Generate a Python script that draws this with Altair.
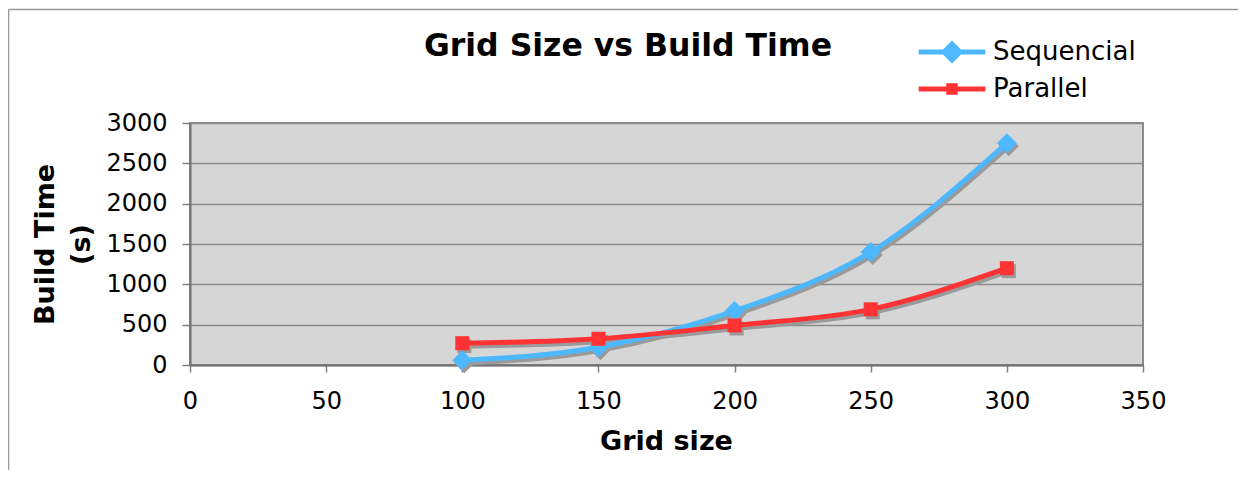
import altair as alt
import pandas as pd

# ---- data ----
grid_size = [100, 150, 200, 250, 300]
sequencial = [60, 220, 670, 1400, 2750]
parallel = [270, 325, 490, 690, 1200]
series_names = ["Sequencial", "Parallel"]
x_ticks = [0, 50, 100, 150, 200, 250, 300, 350]
y_ticks = [0, 500, 1000, 1500, 2000, 2500, 3000]
chart_title = "Grid Size vs Build Time"

rows = []
for g, s, p in zip(grid_size, sequencial, parallel):
    rows.append({"grid": g, "series": "Sequencial", "time": s})
    rows.append({"grid": g, "series": "Parallel", "time": p})
df = pd.DataFrame(rows)

FONT = "DejaVu Sans"
colors = ["#4db8ff", "#ff3333"]
shadow = "#9a9a9a"

color_scale = alt.Scale(domain=series_names, range=colors)

# legend symbols: a thick line with the marker on it (filled paths)
seq_path = "M-2.9,-0.22H2.9V0.22H-2.9Z M0,-1L1,0L0,1L-1,0Z"
par_path = "M-2.9,-0.22H2.9V0.22H-2.9Z M-0.5,-0.5H0.5V0.5H-0.5Z"
legend_shape_scale = alt.Scale(domain=series_names, range=[seq_path, par_path])

x = alt.X(
    "grid:Q",
    scale=alt.Scale(domain=[0, 350], nice=False, zero=False),
    axis=alt.Axis(
        values=x_ticks, title="Grid size", grid=False, format="d", labelFlush=False,
        labelFontSize=24, labelFont=FONT, labelColor="black",
        tickSize=7, labelPadding=17, tickColor="#808080", tickWidth=1.5,
        domainColor="#707070", domainWidth=2,
        titleFontSize=27, titleFont=FONT, titleFontWeight="bold", titleColor="black",
        titleBaseline="alphabetic", titleY=84, titleX=476,
    ),
)
y = alt.Y(
    "time:Q",
    scale=alt.Scale(domain=[0, 3000], nice=False),
    axis=alt.Axis(
        values=y_ticks, title=["Build Time", "(s)"], grid=True, format="d", labelFlush=False,
        gridColor="#8a8a8a", gridWidth=1.5,
        labelFontSize=24, labelFont=FONT, labelColor="black",
        tickSize=8, labelPadding=15, tickColor="#808080", tickWidth=1.5,
        domainColor="#707070", domainWidth=2,
        titleFontSize=27, titleFont=FONT, titleFontWeight="bold", titleColor="black",
        titleBaseline="alphabetic", titleAngle=270, titleAlign="center",
        titleX=-137, titleY=121, titleLineHeight=36,
    ),
)

legend = alt.Legend(
    title=None, orient="none", legendX=749, legendY=-84, padding=0,
    direction="vertical",
    labelFontSize=26, labelFont=FONT, labelColor="black",
    symbolSize=529, symbolStrokeWidth=0, symbolOpacity=1,
    labelOffset=28, rowPadding=11,
)

base = alt.Chart(df)

# legend-only layer (no rows survive the filter; entries come from the scale domain)
legend_layer = base.transform_filter("false").mark_point(
    filled=True, opacity=1
).encode(
    x=x, y=y,
    color=alt.Color("series:N", scale=color_scale, legend=legend),
    shape=alt.Shape("series:N", scale=legend_shape_scale, legend=legend),
)

shadow_lines = base.mark_line(
    interpolate="monotone", strokeWidth=5, color=shadow, xOffset=2, yOffset=3
).encode(x=x, y=y, detail="series:N")

lines = base.mark_line(interpolate="monotone", strokeWidth=5).encode(
    x=x, y=y,
    color=alt.Color("series:N", scale=color_scale),
)


def marker_layers(name, shape, size):
    sub = base.transform_filter(alt.datum.series == name)
    sh = sub.mark_point(
        filled=True, color=shadow, opacity=1, shape=shape, size=size, xOffset=2, yOffset=3
    ).encode(x=x, y=y)
    pt = sub.mark_point(filled=True, opacity=1, shape=shape, size=size).encode(
        x=x, y=y, color=alt.Color("series:N", scale=color_scale)
    )
    return sh, pt


seq_shadow, seq_points = marker_layers("Sequencial", "diamond", 400)
par_shadow, par_points = marker_layers("Parallel", "square", 196)

one = pd.DataFrame({"label": [chart_title]})
title_text = alt.Chart(one).mark_text(
    font=FONT, fontSize=31.5, fontWeight="bold", color="black",
    align="center", baseline="alphabetic",
).encode(x=alt.value(438), y=alt.value(-67), text="label:N")

frame_left = alt.Chart(one).mark_rule(color="#999999", strokeWidth=1.5).encode(
    x=alt.value(-181.5), y=alt.value(-113.5), y2=alt.value(400)
)
frame_top = alt.Chart(one).mark_rule(color="#999999", strokeWidth=1.5).encode(
    x=alt.value(-181.5), x2=alt.value(1200), y=alt.value(-113.5)
)

chart = alt.layer(
    legend_layer,
    frame_left, frame_top,
    shadow_lines, seq_shadow, par_shadow,
    lines, seq_points, par_points,
    title_text,
).properties(
    width=953,
    height=242,
    background="white",
    padding={"left": 182, "top": 115, "right": 95, "bottom": 105},
    autosize=alt.AutoSizeParams(type="none"),
).configure_view(
    fill="#d6d6d6", stroke="#8a8a8a", strokeWidth=2
)

chart.save("out.html", embed_options={"renderer": "svg", "actions": False})
